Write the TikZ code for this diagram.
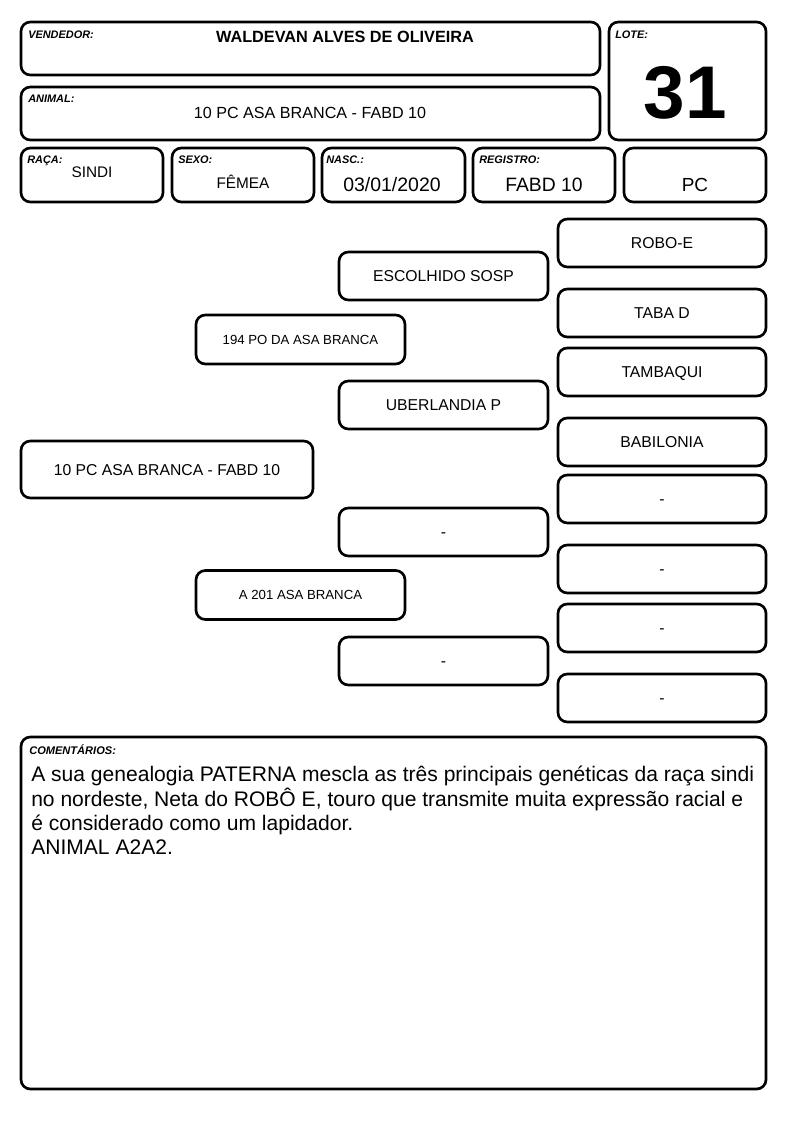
\documentclass[tikz,border=0pt]{standalone}
\usepackage{fontspec}
\setmainfont{Liberation Sans}
\usetikzlibrary{fit}

\tikzset{
  cell/.style={draw, rounded corners=7pt, line width=2pt, inner sep=0pt},
  tag/.style={anchor=base west, inner sep=0pt, font=\bfseries\itshape\fontsize{8.2}{10}\selectfont},
  val/.style={anchor=base, inner sep=0pt},
  ped/.style={cell, font=\fontsize{11.8}{14}\selectfont, text height=8.5pt, text depth=0pt},
  selfbox/.style={ped, minimum width=219pt, minimum height=42.75pt},
  parbox/.style={cell, font=\fontsize{9.9}{12}\selectfont, text height=7.1pt, text depth=0pt,
    minimum width=156.75pt, minimum height=36.75pt},
  gpbox/.style={ped, minimum width=156.75pt, minimum height=36pt},
  ggpbox/.style={ped, minimum width=156pt, minimum height=36pt},
}

\begin{document}
\begin{tikzpicture}[x=0.75pt, y=-0.75pt]
	\useasboundingbox (0,0) rectangle (794,1123);
	% header
	\node[cell, fit={(21,22) (600,75)}] (vend) {};
	\node[cell, fit={(21,87) (600,140)}] (anim) {};
	\node[cell, fit={(609,22) (766,140)}] (lote) {};
	\node[cell, fit={(21,148) (163,202)}] (raca) {};
	\node[cell, fit={(172,148) (314,202)}] (sexo) {};
	\node[cell, fit={(322,148) (465,202)}] (nasc) {};
	\node[cell, fit={(473,148) (615,202)}] (reg) {};
	\node[cell, fit={(624,148) (766,202)}] (cat) {};
	\node[tag] (vendtag) at (28,39) {VENDEDOR:};
	\node[tag] (animtag) at (28,103) {ANIMAL:};
	\node[tag] (lotetag) at (615,39) {LOTE:};
	\node[tag] (racatag) at (27,164) {RAÇA:};
	\node[tag] (sexotag) at (178,164) {SEXO:};
	\node[tag] (nasctag) at (326,164) {NASC.:};
	\node[tag] (regtag) at (479,164) {REGISTRO:};
	\node[val, font=\bfseries\fontsize{12.2}{14}\selectfont] (vendval) at (345,43) {WALDEVAN ALVES DE OLIVEIRA};
	\node[val, font=\fontsize{12.1}{14}\selectfont] (animval) at (310,119) {10 PC ASA BRANCA - FABD 10};
	\node[val, font=\bfseries\fontsize{56}{60}\selectfont] (loteval) at (685,119) {31};
	\node[val, font=\fontsize{11.5}{14}\selectfont] (racaval) at (92,178) {SINDI};
	\node[val, font=\fontsize{11.5}{14}\selectfont] (sexoval) at (243,189) {FÊMEA};
	\node[val, font=\fontsize{14.6}{16}\selectfont] (nascval) at (392,192) {03/01/2020};
	\node[val, font=\fontsize{14.5}{16}\selectfont] (regval) at (544,192) {FABD 10};
	\node[val, font=\fontsize{14.2}{16}\selectfont] (catval) at (695,192) {PC};
	% pedigree
	\node[selfbox] (self) at (167,469.5) {10 PC ASA BRANCA - FABD 10};
	\node[parbox] (sire) at (300.5,339.5) {194 PO DA ASA BRANCA};
	\node[parbox] (dam) at (300.5,595) {A 201 ASA BRANCA};
	\node[gpbox] (ss) at (443.5,276) {ESCOLHIDO SOSP};
	\node[gpbox] (sd) at (443.5,405) {UBERLANDIA P};
	\node[gpbox] (ds) at (443.5,532) {-};
	\node[gpbox] (dd) at (443.5,661) {-};
	\node[ggpbox] (sss) at (662,243) {ROBO-E};
	\node[ggpbox] (ssd) at (662,313) {TABA D};
	\node[ggpbox] (sds) at (662,372) {TAMBAQUI};
	\node[ggpbox] (sdd) at (662,442) {BABILONIA};
	\node[ggpbox] (dss) at (662,499) {-};
	\node[ggpbox] (dsd) at (662,569) {-};
	\node[ggpbox] (dds) at (662,628) {-};
	\node[ggpbox] (ddd) at (662,698) {-};
	% comments
	\node[cell, fit={(21,737) (766,1089)}] (obs) {};
	\node[tag, font=\bfseries\itshape\fontsize{8.3}{9}\selectfont] (obstag) at (29,754) {COMENTÁRIOS:};
	\node[anchor=north west, inner sep=0pt, align=left, font=\fontsize{15.8}{18.2}\selectfont] (obsval) at (31,766)
	  {A sua genealogia PATERNA mescla as três principais genéticas da raça sindi\\
	   no nordeste, Neta do ROBÔ E, touro que transmite muita expressão racial e\\
	   é considerado como um lapidador.\\
	   ANIMAL A2A2.};
\end{tikzpicture}
\end{document}
